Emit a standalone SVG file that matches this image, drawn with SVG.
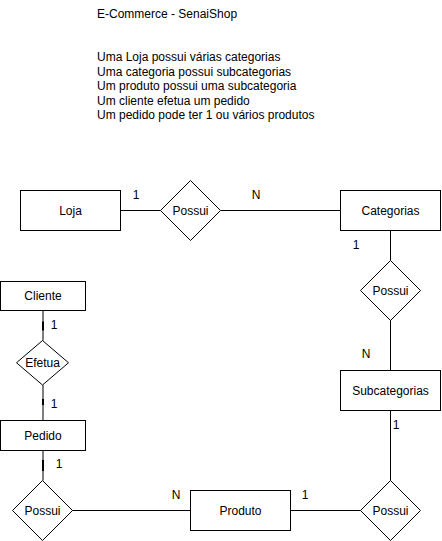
<svg xmlns="http://www.w3.org/2000/svg" width="442" height="541" viewBox="0 0 442 541">
<style>
  text { font-family: "Liberation Sans", Arial, sans-serif; font-size: 12px; fill: #000; }
  .c { text-anchor: middle; }
  .shape { fill: #fff; stroke: #000; stroke-width: 1; }
  .edge { fill: none; stroke: #000; stroke-width: 1; }
  .grey { fill: none; stroke: #808080; stroke-width: 2; }
  .dark { fill: none; stroke: #000; stroke-width: 2; }
</style>
<rect width="442" height="541" fill="#fff"/>
<g id="notes">
  <text x="97" y="18">E-Commerce - SenaiShop</text>
  <text x="97" y="61">Uma Loja possui várias categorias</text>
  <text x="97" y="75.5">Uma categoria possui subcategorias</text>
  <text x="97" y="90">Um produto possui uma subcategoria</text>
  <text x="97" y="104.5">Um cliente efetua um pedido</text>
  <text x="97" y="119">Um pedido pode ter 1 ou vários produtos</text>
</g>
<g id="connectors">
  <path class="edge" d="M120.5 210.5 H160.5"/>
  <path class="edge" d="M220.5 210.5 H340.5"/>
  <path class="edge" d="M390.5 230.5 V260.5"/>
  <path class="edge" d="M390.5 320.5 V370.5"/>
  <path class="edge" d="M390.5 410.5 V480.5"/>
  <path class="edge" d="M290.5 510.5 H360.5"/>
  <path class="edge" d="M72.5 510.5 H190.5"/>
  <path class="grey" d="M43 310.5 V340.5"/>
  <path class="dark" d="M43 321.5 V330.5"/>
  <path class="grey" d="M43 385 V420.5"/>
  <path class="dark" d="M43 399 V405"/>
  <path class="grey" d="M43 450.5 V480.5"/>
  <path class="dark" d="M43 460 V471"/>
  <text class="c" x="136" y="199">1</text>
  <text class="c" x="256" y="199">N</text>
  <text class="c" x="356" y="249">1</text>
  <text class="c" x="366" y="358">N</text>
  <text class="c" x="396" y="429">1</text>
  <text class="c" x="305" y="499">1</text>
  <text class="c" x="176" y="499">N</text>
  <text class="c" x="54" y="329">1</text>
  <text class="c" x="54" y="408">1</text>
  <text class="c" x="59" y="468">1</text>
</g>
<g id="loja">
  <rect class="shape" x="20.5" y="190.5" width="100" height="40"/>
  <text class="c" x="70.5" y="214.5">Loja</text>
</g>
<g id="possui1">
  <path class="shape" d="M190.5 180.5 L220.5 210.5 L190.5 240.5 L160.5 210.5 Z"/>
  <text class="c" x="190.5" y="214.5">Possui</text>
</g>
<g id="categorias">
  <rect class="shape" x="340.5" y="190.5" width="100" height="40"/>
  <text class="c" x="390.5" y="214.5">Categorias</text>
</g>
<g id="possui2">
  <path class="shape" d="M390.5 260.5 L420.5 290.5 L390.5 320.5 L360.5 290.5 Z"/>
  <text class="c" x="390.5" y="294.5">Possui</text>
</g>
<g id="subcategorias">
  <rect class="shape" x="340.5" y="370.5" width="100" height="40"/>
  <text class="c" x="390.5" y="394.5">Subcategorias</text>
</g>
<g id="possui3">
  <path class="shape" d="M390.5 480.5 L420.5 510.5 L390.5 540.5 L360.5 510.5 Z"/>
  <text class="c" x="390.5" y="514.5">Possui</text>
</g>
<g id="produto">
  <rect class="shape" x="190.5" y="490.5" width="100" height="40"/>
  <text class="c" x="240.5" y="514.5">Produto</text>
</g>
<g id="possui4">
  <path class="shape" d="M42.5 480.5 L72.5 510.5 L42.5 540.5 L12.5 510.5 Z"/>
  <text class="c" x="42.5" y="514.5">Possui</text>
</g>
<g id="cliente">
  <rect class="shape" x="0.5" y="281.5" width="85" height="29"/>
  <text class="c" x="43" y="300">Cliente</text>
</g>
<g id="efetua">
  <path class="shape" d="M42.5 340.5 L68.5 362.75 L42.5 385 L16.5 362.75 Z"/>
  <text class="c" x="42.5" y="367">Efetua</text>
</g>
<g id="pedido">
  <rect class="shape" x="0.5" y="420.5" width="85" height="30"/>
  <text class="c" x="43" y="439.5">Pedido</text>
</g>
</svg>
